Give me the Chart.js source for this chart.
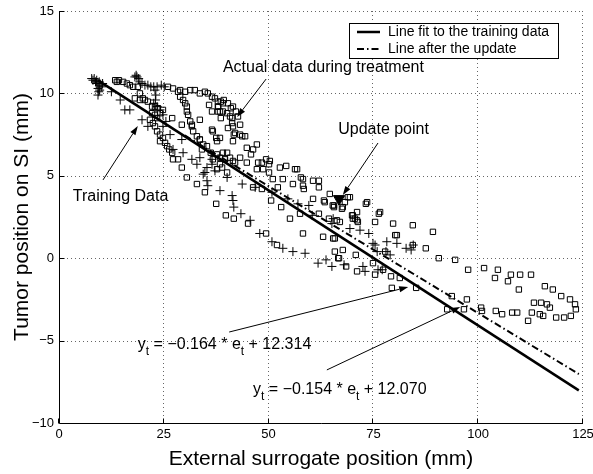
<!DOCTYPE html>
<html><head><meta charset="utf-8">
<script src="https://cdn.jsdelivr.net/npm/chart.js@4.4.1/dist/chart.umd.min.js"></script>
<style>html,body{margin:0;padding:0;background:#fff}#wrap{width:593px;height:474px}</style>
</head><body><div id="wrap"><canvas id="c" width="593" height="474"></canvas></div>
<script>
const xTicks = [0, 25, 50, 75, 100, 125];
const yTicks = [-10, -5, 0, 5, 10, 15];

// Training data (+ markers)
const trainingX = [7.8,8.1,8.4,8.7,9.0,9.3,9.6,9.8,9.3,9.5,9.3,8.9,10.2,10.4,9.7,
 18.1,18.6,19.0,18.4,19.3,19.8,20.5,21.2,21.9,22.6,23.4,24.4,25.1,22.9,23.1,23.0,22.6,23.4,24.1,24.8,
 12.5,14.6,15.7,16.9,19.8,21.2,24.8,25.5,26.5,27.2,29.3,29.6,31.7,32.9,33.6,34.4,35.3,35.5,36.5,36.5,
 37.2,34.8,35.3,38.4,40.1,41.3,41.5,41.7,43.4,43.7,45.6,46.8,47.9,50.8,50.8,53.4,54.6,55.8,57.0,58.7,
 59.6,60.4,61.8,63.7,65.1,65.1,65.4,68.0,69.4,71.8,72.5,73.0,73.9,74.9,75.9,76.1,77.1,78.2,78.0,79.0,
 80.6,82.8,84.0,84.5,75.4];
const trainingY = [10.9,10.8,10.9,10.7,10.8,10.6,10.7,10.5,10.3,10.1,9.9,10.6,10.4,10.6,10.2,
 11.0,11.0,10.9,11.1,10.7,10.6,10.5,10.5,10.4,10.4,10.4,10.5,10.4,10.2,9.9,9.6,9.4,9.2,9.0,8.7,
 10.1,9.6,9.0,9.0,8.4,8.0,8.0,8.3,7.5,6.6,7.2,6.4,6.0,5.7,6.1,5.1,5.5,4.4,6.0,5.7,
 5.3,5.2,4.7,4.1,4.9,3.8,3.5,3.1,2.7,4.5,2.3,4.3,1.5,4.0,1.0,0.6,3.6,0.4,3.3,0.3,
 3.2,2.6,-0.3,-0.1,-0.5,2.1,2.4,-0.4,1.8,1.7,-0.5,-0.8,1.5,0.9,0.4,-0.7,-0.7,1.0,0.4,0.2,
 0.9,0.6,0.5,0.8,0.8];

// Actual data during treatment (square markers)
const actualX = [13.4,13.8,14.3,15.3,16.2,16.9,17.7,18.8,19.3,18.1,19.3,20.0,20.5,21.2,22.2,22.9,23.6,24.1,24.8,22.2,
 22.9,23.4,21.7,22.4,22.9,23.4,24.1,24.8,24.1,25.3,25.8,26.3,27.0,27.2,28.4,29.3,30.5,32.9,34.8,37.5,
 39.8,41.7,45.1,49.4,52.0,
 26.0,27.2,28.4,28.9,29.6,30.1,30.5,30.5,30.8,31.3,31.7,32.0,32.9,33.6,34.4,34.1,35.3,36.2,37.7,36.7,
 38.4,39.6,38.9,37.7,40.1,27.0,29.3,31.7,
 28.9,30.1,31.3,32.4,33.6,34.8,35.5,36.5,37.2,37.9,38.6,39.3,40.3,41.0,41.5,42.2,42.7,43.2,38.0,38.4,
 39.1,40.8,41.3,41.5,40.3,42.0,43.2,44.4,
 35.8,36.5,37.9,39.1,37.9,40.1,38.6,41.3,36.5,36.7,41.7,43.7,37.5,38.4,41.5,37.7,47.2,44.8,46.3,39.1,
 40.1,43.2,45.8,40.8,41.5,44.8,47.5,48.4,49.4,50.3,42.0,38.4,50.1,47.2,48.7,50.1,52.7,54.2,56.8,51.0,
 53.4,57.7,60.6,62.0,55.8,33.6,33.6,
 46.3,48.4,52.2,58.4,62.0,60.6,63.2,64.6,65.6,64.4,66.3,62.0,58.2,63.0,65.8,66.6,50.6,53.0,55.1,57.5,
 56.3,58.2,58.2,68.9,67.5,65.3,63.4,73.5,71.1,69.9,70.6,71.3,76.6,75.4,79.7,84.4,89.2,80.6,
 65.6,67.7,69.4,68.2,73.2,76.3,70.1,71.1,70.1,67.0,80.2,65.4,84.4,87.5,77.8,65.8,67.7,70.8,66.8,68.5,
 71.1,74.9,77.3,75.4,79.2,81.3,79.4,85.2,90.6,93.7,92.6,
 94.5,97.6,101.4,104.7,104.0,107.1,107.8,110.0,112.6,109.7,115.9,117.8,119.8,121.9,123.1,123.3,97.3,96.6,100.7,100.9,
 104.2,105.7,108.1,109.3,112.8,113.3,115.0,116.4,117.1,114.7,115.5,118.6,120.5,122.1,111.9];
const actualY = [10.8,10.7,10.8,10.7,10.6,10.5,10.4,10.4,10.0,9.7,9.6,9.7,9.6,9.5,9.2,9.2,9.1,8.8,9.0,8.8,
 8.7,8.5,8.4,8.2,8.0,7.7,7.5,7.3,7.1,7.0,6.8,6.6,6.4,6.0,6.0,5.5,4.9,4.5,4.0,3.3,
 2.6,2.4,2.1,1.5,0.8,
 10.4,10.3,10.1,9.8,9.6,9.4,9.2,8.9,8.7,8.3,8.0,7.7,7.4,7.2,6.9,6.6,6.8,6.4,6.3,6.0,
 6.1,6.0,5.5,5.4,5.2,8.5,8.1,8.1,
 10.2,10.1,10.2,10.2,10.0,10.1,10.0,9.8,9.7,9.5,9.5,9.6,9.4,9.1,9.2,8.9,8.6,8.1,9.2,8.9,
 8.9,8.6,8.2,8.0,7.9,7.6,7.5,7.4,
 9.3,8.9,9.2,9.4,8.9,8.8,8.5,8.5,7.8,7.7,7.5,7.4,7.3,7.3,7.1,7.1,6.9,6.7,6.6,6.4,
 6.4,6.1,6.3,6.1,5.9,5.8,5.8,5.8,6.0,5.9,5.8,5.7,5.7,5.4,5.4,5.2,5.5,5.6,5.4,4.8,
 4.8,4.9,4.7,4.7,4.5,7.2,8.4,
 4.3,4.2,4.3,4.2,4.3,3.6,3.5,3.9,3.2,2.4,2.3,2.7,1.5,1.3,1.2,0.0,3.5,3.1,2.4,2.7,
 5.4,4.8,4.4,3.7,3.0,3.2,3.4,3.4,2.8,2.6,2.4,2.2,2.8,2.2,2.1,2.0,1.6,1.4,
 3.1,3.1,3.7,3.4,3.3,2.7,2.6,2.3,2.4,2.2,1.4,1.2,0.8,0.6,0.4,0.4,0.5,0.2,0.0,-0.5,
 -0.8,-0.3,-0.7,-1.0,-1.1,-1.2,-1.8,-1.8,0.0,-2.3,-3.1,
 -0.1,-0.7,-0.6,-0.7,-1.2,-1.4,-1.0,-1.0,-1.0,-1.9,-1.7,-1.9,-2.3,-2.5,-2.8,-3.1,-2.5,-3.1,-3.0,-3.2,
 -3.2,-3.4,-3.3,-3.3,-3.3,-2.7,-2.7,-2.8,-3.0,-3.4,-3.5,-3.6,-3.6,-3.5,-3.8];

// Fitted lines (end points)
const fitLineX = [9.3, 124];
const fitLineY = [10.79, -8.02];
const updateLineX = [30, 124];
const updateLineY = [7.45, -7.03];
const updatePointX = [66.8];
const updatePointY = [3.6];

const legendLabels = ['Line fit to the training data', 'Line after the update'];
const xTitle = 'External surrogate position (mm)';
const yTitle = 'Tumor position on SI (mm)';

const FONT = '"Liberation Sans", Arial, Helvetica, sans-serif';
const DASHDOT = [7, 3, 1.5, 3];

const notes = [
  {text: 'Actual data during treatment', x: 39.1, y: 11.54, from: [49.4, 10.87], to: [42.5, 8.57]},
  {text: 'Update point', x: 66.6, y: 7.78, from: [76.1, 6.99], to: [67.7, 3.83]},
  {text: 'Training Data', x: 3.3, y: 3.71, from: [10.5, 4.75], to: [18.8, 8.02]},
  {eq: ['y', 't', ' = \u22120.164 * e', 't', ' + 12.314'], x: 18.8, y: -5.27, from: [40.6, -4.48], to: [83.3, -1.75]},
  {eq: ['y', 't', ' = \u22120.154 * e', 't', ' + 12.070'], x: 46.3, y: -8.0, from: [63.9, -6.78], to: [95.7, -2.96]}
];

const zip = (xs, ys) => xs.map((v, i) => ({x: v, y: ys[i]}));
const fmt = v => v < 0 ? '\u2212' + Math.abs(v) : String(v);

function arrow(ctx, x1, y1, x2, y2) {
  const ang = Math.atan2(y2 - y1, x2 - x1);
  const L = 9, W = 3;
  const bx = x2 - L * Math.cos(ang), by = y2 - L * Math.sin(ang);
  ctx.beginPath(); ctx.moveTo(x1, y1); ctx.lineTo(bx, by); ctx.stroke();
  ctx.beginPath();
  ctx.moveTo(x2, y2);
  ctx.lineTo(bx + W * Math.sin(ang), by - W * Math.cos(ang));
  ctx.lineTo(bx - W * Math.sin(ang), by + W * Math.cos(ang));
  ctx.closePath(); ctx.fill();
}

const decor = {
  id: 'decor',
  beforeDatasetsDraw(chart) {
    const {ctx, chartArea: a, scales: {x, y}} = chart;
    ctx.save();
    ctx.lineWidth = 1;
    ctx.strokeStyle = 'rgba(0,0,0,0.6)';
    ctx.setLineDash([1, 3]);
    xTicks.forEach(v => {
      if (v === x.min) return;
      const px = Math.round(x.getPixelForValue(v)) - 0.5;
      ctx.beginPath(); ctx.moveTo(px, a.top); ctx.lineTo(px, a.bottom); ctx.stroke();
    });
    yTicks.forEach(v => {
      if (v === y.min) return;
      const py = Math.round(y.getPixelForValue(v)) + 0.5;
      ctx.beginPath(); ctx.moveTo(a.left, py); ctx.lineTo(a.right, py); ctx.stroke();
    });
    ctx.setLineDash([]);
    ctx.strokeStyle = '#000';
    const L = Math.round(a.left) + 0.5, B = Math.round(a.bottom) + 0.5;
    ctx.beginPath(); ctx.moveTo(L, a.top); ctx.lineTo(L, B); ctx.lineTo(a.right, B); ctx.stroke();
    xTicks.forEach(v => {
      const px = Math.round(x.getPixelForValue(v)) - 0.5;
      ctx.beginPath(); ctx.moveTo(px, B); ctx.lineTo(px, B - 5); ctx.stroke();
    });
    yTicks.forEach(v => {
      const py = Math.round(y.getPixelForValue(v)) + 0.5;
      ctx.beginPath(); ctx.moveTo(L, py); ctx.lineTo(L + 5, py); ctx.stroke();
    });
    ctx.restore();
  },
  afterDraw(chart) {
    const {ctx, scales: {x, y}} = chart;
    ctx.save();
    ctx.fillStyle = '#000'; ctx.strokeStyle = '#000'; ctx.lineWidth = 1;
    notes.forEach(n => {
      const px = x.getPixelForValue(n.x), py = y.getPixelForValue(n.y);
      ctx.textBaseline = 'middle'; ctx.textAlign = 'left';
      if (n.text) {
        ctx.font = '16px ' + FONT;
        ctx.fillText(n.text, px, py);
      } else {
        let cx = px;
        n.eq.forEach((s, i) => {
          const sub = i % 2 === 1;
          ctx.font = (sub ? '12px ' : '16px ') + FONT;
          ctx.fillText(s, cx, sub ? py + 7 : py);
          cx += ctx.measureText(s).width;
        });
      }
      arrow(ctx, x.getPixelForValue(n.from[0]), y.getPixelForValue(n.from[1]),
                 x.getPixelForValue(n.to[0]), y.getPixelForValue(n.to[1]));
    });
    const lx = 349.5, ly = 23.5, lw = 209, lh = 35;
    ctx.fillStyle = '#fff'; ctx.fillRect(lx, ly, lw, lh);
    ctx.strokeStyle = '#000'; ctx.lineWidth = 1; ctx.strokeRect(lx, ly, lw, lh);
    ctx.fillStyle = '#000';
    ctx.font = '14px ' + FONT; ctx.textBaseline = 'middle'; ctx.textAlign = 'left';
    const rows = [32, 49];
    ctx.lineWidth = 2.5; ctx.setLineDash([]);
    ctx.beginPath(); ctx.moveTo(357, rows[0]); ctx.lineTo(380, rows[0]); ctx.stroke();
    ctx.lineWidth = 2; ctx.setLineDash(DASHDOT);
    ctx.beginPath(); ctx.moveTo(357, rows[1]); ctx.lineTo(380, rows[1]); ctx.stroke();
    ctx.setLineDash([]);
    ctx.fillText(legendLabels[0], 388, rows[0]);
    ctx.fillText(legendLabels[1], 388, rows[1]);
    ctx.restore();
  }
};

new Chart(document.getElementById('c'), {
  type: 'scatter',
  data: {
    datasets: [
      {label: legendLabels[0], data: zip(fitLineX, fitLineY), showLine: true, borderColor: '#000', borderWidth: 2.5, pointRadius: 0, order: 0},
      {label: legendLabels[1], data: zip(updateLineX, updateLineY), showLine: true, borderColor: '#000', borderWidth: 2, borderDash: DASHDOT, pointRadius: 0, order: 1},
      {label: 'Update point', data: zip(updatePointX, updatePointY), pointStyle: 'triangle', rotation: 180, pointRadius: 6.5, backgroundColor: '#000', borderColor: '#000', borderWidth: 1, order: 2},
      {label: 'Actual data during treatment', data: zip(actualX, actualY), pointStyle: 'rect', pointRadius: 3.8, backgroundColor: 'rgba(0,0,0,0)', borderColor: '#000', borderWidth: 1, order: 4},
      {label: 'Training Data', data: zip(trainingX, trainingY), pointStyle: 'cross', pointRadius: 4.5, borderColor: '#000', borderWidth: 1, order: 3}
    ]
  },
  options: {
    responsive: false,
    animation: false,
    events: [],
    layout: {padding: {top: 11, right: 10, bottom: 0, left: 0}},
    plugins: {legend: {display: false}, tooltip: {enabled: false}},
    scales: {
      x: {
        type: 'linear', min: 0, max: 125,
        afterBuildTicks: s => { s.ticks = xTicks.map(v => ({value: v})); },
        ticks: {callback: fmt, color: '#000', padding: 4, maxRotation: 0, font: {family: FONT, size: 13}},
        grid: {display: false, drawTicks: false},
        border: {display: false},
        title: {display: true, text: xTitle, color: '#000', font: {family: FONT, size: 21}, padding: {top: 0, bottom: 2}},
        afterFit: s => { s.height = 51; s.paddingLeft = 0; s.paddingRight = 0; }
      },
      y: {
        type: 'linear', min: -10, max: 15,
        afterBuildTicks: s => { s.ticks = yTicks.map(v => ({value: v})); },
        ticks: {callback: fmt, color: '#000', padding: 5, font: {family: FONT, size: 13}},
        grid: {display: false, drawTicks: false},
        border: {display: false},
        title: {display: true, text: yTitle, color: '#000', font: {family: FONT, size: 21}, padding: {top: 10, bottom: 0}},
        afterFit: s => { s.width = 59; s.paddingTop = 0; s.paddingBottom = 0; }
      }
    }
  },
  plugins: [decor]
});
</script>
</body></html>
